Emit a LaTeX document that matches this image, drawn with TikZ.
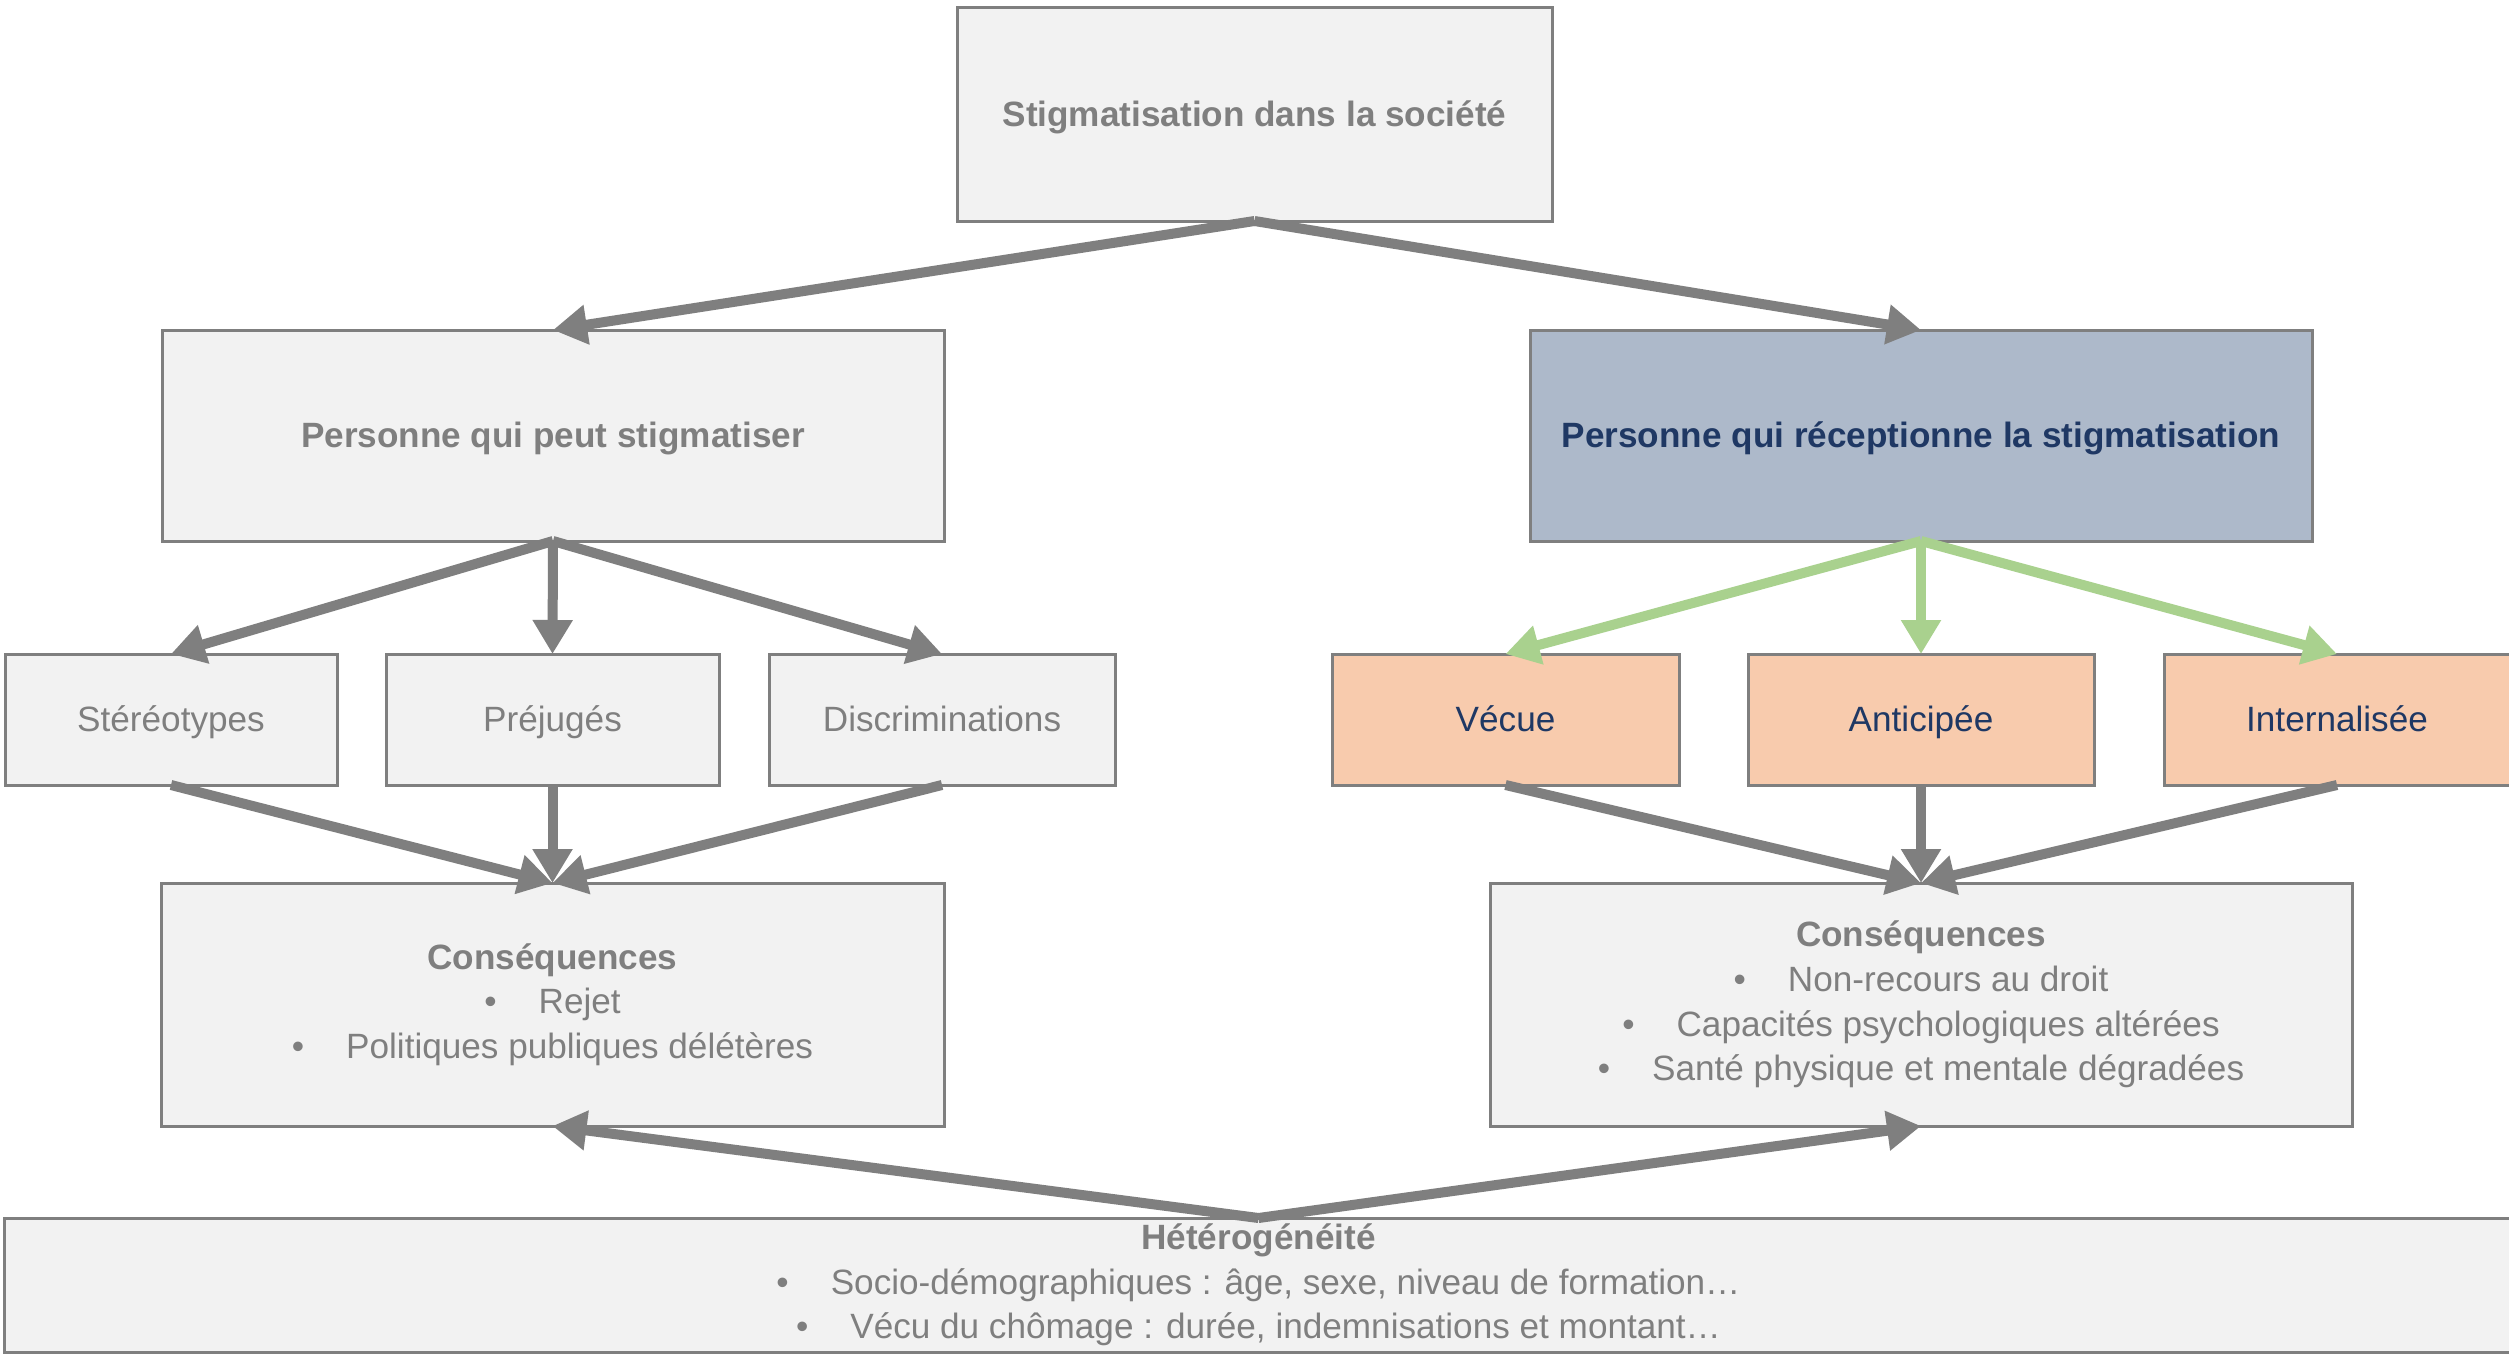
\documentclass[tikz,border=0pt]{standalone}
\usepackage{fontspec}
\setmainfont{Liberation Sans}
\usetikzlibrary{arrows.meta}
\definecolor{boxgray}{HTML}{F2F2F2}
\definecolor{linegray}{HTML}{7F7F7F}
\definecolor{txtgray}{HTML}{7F7F7F}
\definecolor{navy}{HTML}{1F3864}
\definecolor{bluefill}{HTML}{ADB9CA}
\definecolor{orangefill}{HTML}{F8CBAD}
\definecolor{greenarr}{HTML}{A9D18E}
\tikzset{
  box/.style={draw=linegray, line width=0.03cm, fill=boxgray, text=txtgray,
    inner sep=0pt, outer sep=0pt, align=center, font=\fontsize{10}{12.7}\selectfont},
  oneline/.style={text height=7.0pt, text depth=0pt},
  bluebox/.style={box, fill=bluefill, text=navy},
  orangebox/.style={box, fill=orangefill, text=navy},
  arr/.style={draw=linegray, line width=0.1cm, -{Triangle[length=0.34cm,width=0.38cm]}},
  garr/.style={arr, draw=greenarr, -{Triangle[length=0.34cm,width=0.38cm]}},
}
\newcommand{\bul}{\textbullet\hspace{0.42cm}}
\begin{document}
\begin{tikzpicture}
\clip (0,0) rectangle (25.09,-13.54);
\fill[white] (0,0) rectangle (25.09,-13.54);
% top
\node[box, oneline, minimum width=5.95cm, minimum height=2.13cm] (top) at (12.545,-1.145) {\textbf{Stigmatisation dans la société}};
% level 2
\node[box, oneline, minimum width=7.82cm, minimum height=2.11cm] (pleft) at (5.53,-4.355) {\textbf{Personne qui peut stigmatiser}};
\node[bluebox, oneline, minimum width=7.82cm, minimum height=2.11cm] (pright) at (19.21,-4.355) {\textbf{Personne qui réceptionne la stigmatisation}};
% level 3
\node[box, oneline, minimum width=3.32cm, minimum height=1.31cm] (ster) at (1.71,-7.195) {Stéréotypes};
\node[box, oneline, minimum width=3.33cm, minimum height=1.31cm] (prej) at (5.525,-7.195) {Préjugés};
\node[box, oneline, minimum width=3.46cm, minimum height=1.31cm] (disc) at (9.42,-7.195) {Discriminations};
\node[orangebox, oneline, minimum width=3.47cm, minimum height=1.31cm] (vecue) at (15.055,-7.195) {Vécue};
\node[orangebox, oneline, minimum width=3.46cm, minimum height=1.31cm] (antic) at (19.21,-7.195) {Anticipée};
\node[orangebox, oneline, minimum width=3.46cm, minimum height=1.31cm] (intern) at (23.37,-7.195) {Internalisée};
% consequences
\node[box, minimum width=7.83cm, minimum height=2.43cm] (consL) at (5.525,-10.045)
  {\textbf{Conséquences}\\ \bul Rejet\\ \bul Politiques publiques délétères};
\node[box, minimum width=8.62cm, minimum height=2.43cm] (consR) at (19.21,-10.045)
  {\textbf{Conséquences}\\ \bul Non-recours au droit\\ \bul Capacités psychologiques altérées\\ \bul Santé physique et mentale dégradées};
% heterogeneity
\node[box, minimum width=25.07cm, minimum height=1.34cm] (het) at (12.585,-12.85)
  {\textbf{Hétérogénéité}\\ \bul Socio-démographiques : âge, sexe, niveau de formation…\\ \bul Vécu du chômage : durée, indemnisations et montant…};
% arrows
\draw[arr] (top.south) -- (pleft.north);
\draw[arr] (top.south) -- (pright.north);
\draw[arr] (pleft.south) -- (ster.north);
\draw[arr] (pleft.south) -- (prej.north);
\draw[arr] (pleft.south) -- (disc.north);
\draw[garr] (pright.south) -- (vecue.north);
\draw[garr] (pright.south) -- (antic.north);
\draw[garr] (pright.south) -- (intern.north);
\draw[arr] (ster.south) -- (consL.north);
\draw[arr] (prej.south) -- (consL.north);
\draw[arr] (disc.south) -- (consL.north);
\draw[arr] (vecue.south) -- (consR.north);
\draw[arr] (antic.south) -- (consR.north);
\draw[arr] (intern.south) -- (consR.north);
\draw[arr] (het.north) -- (consL.south);
\draw[arr] (het.north) -- (consR.south);
\end{tikzpicture}
\end{document}
